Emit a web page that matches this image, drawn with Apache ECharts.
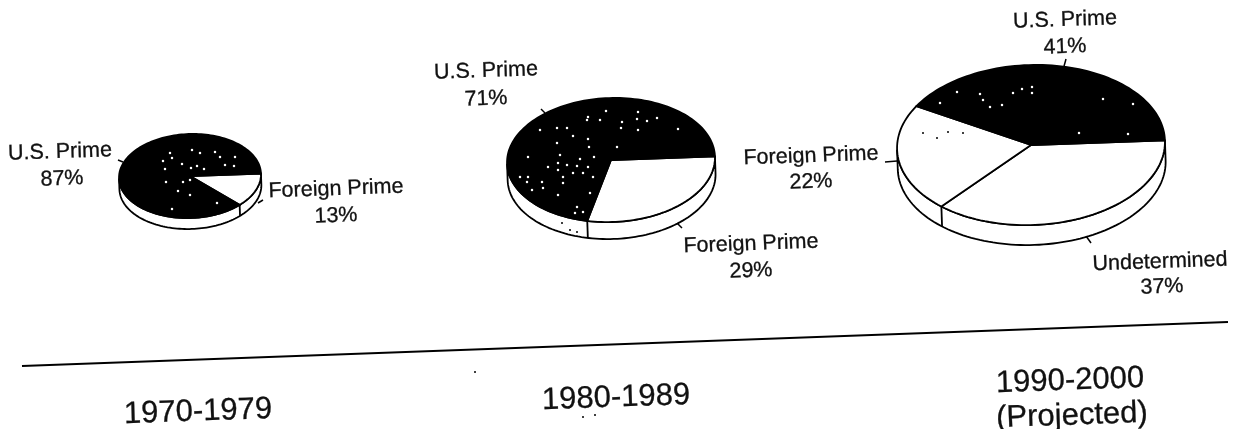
<!DOCTYPE html>
<html>
<head>
<meta charset="utf-8">
<style>
html, body { margin: 0; padding: 0; background: #fff; }
#main1 { width: 1237px; height: 429px; }
</style>
<script src="https://cdn.jsdelivr.net/npm/echarts@6/dist/echarts.min.js"></script>
</head>
<body>
<div id="main1"></div>
<script>
// chart values, percent share per period
var periods = ['1970-1979', '1980-1989', '1990-2000'];
var usPrime = [87, 71, 41];
var foreignPrime = [13, 29, 22];
var undetermined = [0, 0, 37];

// pie layout in page pixels: centre x, centre y, radius x, radius y, wall height
var pieLayout = [
    [190, 176, 71, 42, 11],
    [611, 160, 104, 62, 17],
    [1031, 145, 134, 80, 20]
];

// scan tilt of the whole page, radians
var tilt = 0.035;

// text: string, x, y, size
var labels = [
    ['U.S. Prime', 60, 152, 21.5], ['87%', 62, 179, 21.5],
    ['Foreign Prime', 336, 189, 21.5], ['13%', 336, 216, 21.5],
    ['U.S. Prime', 486, 71, 21.5], ['71%', 486, 99, 21.5],
    ['Foreign Prime', 751, 244, 21.5], ['29%', 751, 271, 21.5],
    ['U.S. Prime', 1065, 20, 21.5], ['41%', 1065, 47, 21.5],
    ['Foreign Prime', 811, 156, 21.5], ['22%', 811, 182, 21.5],
    ['Undetermined', 1160, 262, 21.5], ['37%', 1162, 287, 21.5],
    ['1970-1979', 198, 412, 31],
    ['1980-1989', 616, 398, 31],
    ['1990-2000', 1070, 381, 31],
    ['(Projected)', 1072, 416, 31]
];

// little leader ticks and the long rule under the pies
var leaders = [
    [118, 160, 123, 162], [258, 203, 263, 200],
    [541, 109, 545, 113], [677, 223, 682, 228],
    [1063, 70, 1066, 59], [885, 162, 897, 161], [1086, 236, 1091, 243]
];
var baseline = [22, 366, 1228, 322];

// scan specks
var whiteSpecks = [
    [170,153],[192,150],[200,153],[215,152],[235,157],[163,161],[172,158],[220,157],[234,166],[225,165],[165,169],
    [182,164],[191,168],[197,166],[204,169],[166,182],[183,182],[190,180],[178,191],[190,195],[172,209],[217,203],
    [606,111],[638,112],[588,117],[600,120],[622,122],[637,119],[647,121],[657,118],[587,120],[540,130],[557,128],
    [567,128],[621,128],[638,130],[678,129],[573,136],[588,139],[557,143],[589,147],[617,147],[528,157],[560,155],
    [580,159],[594,157],[548,167],[558,163],[567,165],[577,166],[588,167],[558,170],[583,173],[520,177],[528,177],
    [563,177],[573,173],[593,177],[527,182],[542,182],[563,183],[532,190],[543,188],[558,195],[590,193],[577,207],
    [583,212],[575,213],
    [980,94],[983,100],[1013,93],[1022,89],[1032,87],[1032,93],[1002,105],[990,107],[1103,99],[1079,133],[1128,134],
    [1133,104],[957,92],[940,103]
];
var blackSpecks = [[948,132],[937,138],[963,133],[923,133],[562,223],[570,230],[577,232],[475,372],[583,417],[595,415]];

var myChart1 = echarts.init(document.getElementById('main1'));

function arcPoints(rx, ry, from, to, offset) {
    var points = [];
    var steps = Math.max(2, Math.ceil(Math.abs(to - from) / 2));
    for (var i = 0; i <= steps; i++) {
        var deg = from + (to - from) * i / steps;
        var rad = deg * Math.PI / 180;
        points.push([rx * Math.cos(rad), ry * Math.sin(rad) + offset]);
    }
    return points;
}

// one disc: side wall first, then slices clockwise from the right edge
function renderPie(params, api) {
    var index = api.value(0);
    var layout = pieLayout[index];
    var centre = api.coord([layout[0], layout[1]]);
    var rx = layout[2], ry = layout[3], wall = layout[4];
    var slices = [
        { value: undetermined[index], fill: '#fff' },
        { value: foreignPrime[index], fill: '#fff' },
        { value: usPrime[index], fill: '#000' }
    ];
    var children = [];
    var lineStyle = { fill: 'none', stroke: '#000', lineWidth: 1.8 };

    children.push({
        type: 'polygon',
        shape: { points: arcPoints(rx, ry, 0, 180, 0).concat(arcPoints(rx, ry, 180, 0, wall)) },
        style: { fill: '#fff', stroke: '#000', lineWidth: 1.8 }
    });

    var angle = 0;
    for (var i = 0; i < slices.length; i++) {
        if (!slices[i].value) continue;
        var next = angle + slices[i].value * 3.6;
        children.push({
            type: 'polygon',
            shape: { points: [[0, 0]].concat(arcPoints(rx, ry, angle, next, 0)) },
            style: { fill: slices[i].fill, stroke: '#000', lineWidth: 1.8 }
        });
        // divider down the wall where a slice ends on the front half
        if (next < 180) {
            var rad = next * Math.PI / 180;
            var px = rx * Math.cos(rad), py = ry * Math.sin(rad);
            children.push({
                type: 'line',
                shape: { x1: px, y1: py, x2: px, y2: py + wall },
                style: lineStyle
            });
        }
        angle = next;
    }

    return { type: 'group', x: centre[0], y: centre[1], rotation: tilt, children: children };
}

function renderLabel(params, api) {
    var row = labels[api.value(0)];
    var pos = api.coord([row[1], row[2]]);
    return {
        type: 'text',
        x: pos[0],
        y: pos[1],
        rotation: tilt,
        style: {
            text: row[0],
            fill: '#111',
            stroke: '#111',
            lineWidth: 0.3,
            font: row[3] + 'px "Liberation Sans", Arial, sans-serif',
            align: 'center',
            verticalAlign: 'middle'
        }
    };
}

function renderRule(params, api) {
    var row = api.value(0) < leaders.length ? leaders[api.value(0)] : baseline;
    var a = api.coord([row[0], row[1]]);
    var b = api.coord([row[2], row[3]]);
    return {
        type: 'line',
        shape: { x1: a[0], y1: a[1], x2: b[0], y2: b[1] },
        style: { stroke: '#000', lineWidth: api.value(0) < leaders.length ? 1.5 : 2 }
    };
}

function indexRows(n) {
    var rows = [];
    for (var i = 0; i < n; i++) rows.push([i]);
    return rows;
}

var option = {
    animation: false,
    backgroundColor: '#fff',
    tooltip: { show: false },
    grid: { left: 0, right: 0, top: 0, bottom: 0 },
    xAxis: { type: 'value', min: 0, max: 1237, show: false },
    yAxis: { type: 'value', min: 0, max: 429, inverse: true, show: false },
    series: [
        { name: 'rules', type: 'custom', renderItem: renderRule, silent: true, z: 1,
          encode: { x: 0 }, clip: false, data: indexRows(leaders.length + 1) },
        { name: 'pies', type: 'custom', renderItem: renderPie, silent: true, z: 2,
          encode: { x: 0 }, clip: false, data: indexRows(periods.length) },
        { name: 'white specks', type: 'scatter', symbolSize: 2.5, silent: true, z: 3,
          itemStyle: { color: '#fff', opacity: 1 }, data: whiteSpecks },
        { name: 'black specks', type: 'scatter', symbolSize: 2, silent: true, z: 3,
          itemStyle: { color: '#000', opacity: 1 }, data: blackSpecks },
        { name: 'labels', type: 'custom', renderItem: renderLabel, silent: true, z: 4,
          encode: { x: 0 }, clip: false, data: indexRows(labels.length) }
    ]
};
myChart1.setOption(option);
</script>
</body>
</html>
